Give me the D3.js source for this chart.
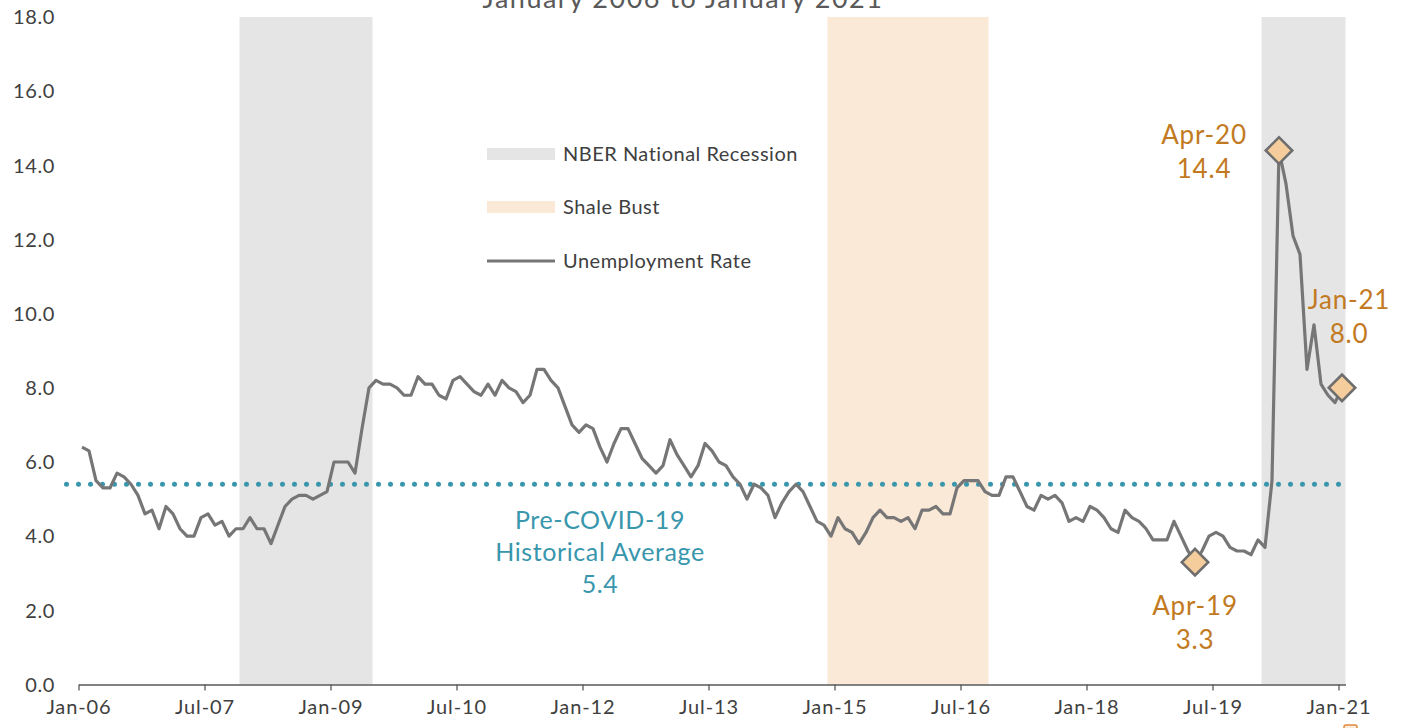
<!DOCTYPE html>
<html>
<head>
<meta charset="utf-8">
<script src="https://cdn.jsdelivr.net/npm/d3@7/dist/d3.min.js"></script>
<style>
  body { margin: 0; background: #fff; }
  svg { display: block; font-family: Lato, "Noto Sans", sans-serif; }
</style>
</head>
<body>
<div id="chart"></div>
<script>
// monthly unemployment rate, Jan-06 .. Jan-21
var rate = [
  6.4, 6.3, 5.5, 5.3, 5.3, 5.7, 5.6, 5.4, 5.1, 4.6, 4.7, 4.2,
  4.8, 4.6, 4.2, 4.0, 4.0, 4.5, 4.6, 4.3, 4.4, 4.0, 4.2, 4.2,
  4.5, 4.2, 4.2, 3.8, 4.3, 4.8, 5.0, 5.1, 5.1, 5.0, 5.1, 5.2,
  6.0, 6.0, 6.0, 5.7, 6.9, 8.0, 8.2, 8.1, 8.1, 8.0, 7.8, 7.8,
  8.3, 8.1, 8.1, 7.8, 7.7, 8.2, 8.3, 8.1, 7.9, 7.8, 8.1, 7.8,
  8.2, 8.0, 7.9, 7.6, 7.8, 8.5, 8.5, 8.2, 8.0, 7.5, 7.0, 6.8,
  7.0, 6.9, 6.4, 6.0, 6.5, 6.9, 6.9, 6.5, 6.1, 5.9, 5.7, 5.9,
  6.6, 6.2, 5.9, 5.6, 5.9, 6.5, 6.3, 6.0, 5.9, 5.6, 5.4, 5.0,
  5.4, 5.3, 5.1, 4.5, 4.9, 5.2, 5.4, 5.2, 4.8, 4.4, 4.3, 4.0,
  4.5, 4.2, 4.1, 3.8, 4.1, 4.5, 4.7, 4.5, 4.5, 4.4, 4.5, 4.2,
  4.7, 4.7, 4.8, 4.6, 4.6, 5.3, 5.5, 5.5, 5.5, 5.2, 5.1, 5.1,
  5.6, 5.6, 5.2, 4.8, 4.7, 5.1, 5.0, 5.1, 4.9, 4.4, 4.5, 4.4,
  4.8, 4.7, 4.5, 4.2, 4.1, 4.7, 4.5, 4.4, 4.2, 3.9, 3.9, 3.9,
  4.4, 4.0, 3.6, 3.3, 3.6, 4.0, 4.1, 4.0, 3.7, 3.6, 3.6, 3.5,
  3.9, 3.7, 5.5, 14.4, 13.5, 12.1, 11.6, 8.5, 9.7, 8.1, 7.8, 7.6,
  8.0
];

var tickMonths = [0, 18, 36, 54, 72, 90, 108, 126, 144, 162, 180];
var tickLabels = ['Jan-06', 'Jul-07', 'Jan-09', 'Jul-10', 'Jan-12', 'Jul-13',
                  'Jan-15', 'Jul-16', 'Jan-18', 'Jul-19', 'Jan-21'];
var yTicks = [0, 2, 4, 6, 8, 10, 12, 14, 16, 18];

// [first month, month after last]
var recessions = [[23, 42], [169, 181]];
var shaleBust = [[107, 130]];

var historicalAvg = 5.4;

var callouts = [
  { month: 159, label: 'Apr-19', value: 3.3 },
  { month: 171, label: 'Apr-20', value: 14.4 },
  { month: 180, label: 'Jan-21', value: 8.0 }
];

var width = 1410,
    height = 728,
    plotLeft = 78.5,
    plotRight = 1345.5,
    plotTop = 17,
    plotBottom = 684.5;

var gray = '#767676',
    teal = '#3896ad',
    orange = '#c27a22';

var x = d3.scaleLinear().domain([0, rate.length]).range([plotLeft, plotRight]);
var y = d3.scaleLinear().domain([0, 18]).range([plotBottom, plotTop]);

function mx(i) {
  return x(i + 0.5);
}

var svg = d3.select('#chart')
            .append('svg')
            .attr('width', width)
            .attr('height', height);

svg.selectAll('rect.recession')
   .data(recessions)
   .enter()
   .append('rect')
   .attr('class', 'recession')
   .attr('x', function(d) { return x(d[0]); })
   .attr('width', function(d) { return x(d[1]) - x(d[0]); })
   .attr('y', plotTop)
   .attr('height', plotBottom - plotTop)
   .attr('fill', '#e5e5e5');

svg.selectAll('rect.shale')
   .data(shaleBust)
   .enter()
   .append('rect')
   .attr('class', 'shale')
   .attr('x', function(d) { return x(d[0]); })
   .attr('width', function(d) { return x(d[1]) - x(d[0]); })
   .attr('y', plotTop)
   .attr('height', plotBottom - plotTop)
   .attr('fill', '#fae9d6');

// subtitle, cut by the top edge
svg.append('text')
   .attr('x', 683)
   .attr('y', 8)
   .attr('text-anchor', 'middle')
   .attr('font-size', 27)
   .attr('letter-spacing', 1.5)
   .attr('fill', '#595959')
   .text('January 2006 to January 2021');

// y labels, no axis line
svg.selectAll('text.ylab')
   .data(yTicks)
   .enter()
   .append('text')
   .attr('class', 'ylab')
   .attr('x', 55)
   .attr('y', function(d) { return y(d); })
   .attr('dy', '0.36em')
   .attr('text-anchor', 'end')
   .attr('font-size', 20)
   .attr('letter-spacing', 0.6)
   .attr('fill', '#404040')
   .text(function(d) { return d.toFixed(1); });

var xAxis = d3.axisBottom(x)
              .tickValues(tickMonths)
              .tickSize(6)
              .tickSizeOuter(0)
              .tickFormat(function(d, i) { return tickLabels[i]; });

var gx = svg.append('g')
            .attr('transform', 'translate(0,' + plotBottom + ')')
            .call(xAxis);

gx.select('.domain').attr('stroke', '#595959').attr('stroke-width', 1.3);
gx.selectAll('.tick line').attr('stroke', '#595959').attr('stroke-width', 1.3);
gx.selectAll('.tick text')
  .attr('y', 15)
  .attr('font-family', 'Lato, "Noto Sans", sans-serif')
  .attr('font-size', 20)
  .attr('letter-spacing', 0.9)
  .attr('fill', '#404040');

// historical average, dotted
svg.append('line')
   .attr('x1', x(0) - 12)
   .attr('x2', plotRight)
   .attr('y1', y(historicalAvg))
   .attr('y2', y(historicalAvg))
   .attr('stroke', teal)
   .attr('stroke-width', 5)
   .attr('stroke-linecap', 'round')
   .attr('stroke-dasharray', '0 12');

var line = d3.line()
             .x(function(d, i) { return mx(i); })
             .y(function(d) { return y(d); });

svg.append('path')
   .datum(rate)
   .attr('d', line)
   .attr('fill', 'none')
   .attr('stroke', gray)
   .attr('stroke-width', 3.2)
   .attr('stroke-linejoin', 'round');

svg.selectAll('path.marker')
   .data(callouts)
   .enter()
   .append('path')
   .attr('class', 'marker')
   .attr('d', d3.symbol().type(d3.symbolSquare).size(350))
   .attr('transform', function(d) {
     return 'translate(' + mx(d.month) + ',' + y(d.value) + ') rotate(45)';
   })
   .attr('fill', '#f5cd9c')
   .attr('stroke', '#6e6e6e')
   .attr('stroke-width', 2.6);

// callout text positions
var calloutText = [
  { cx: 1195, cy: 615 },
  { cx: 1204, cy: 144 },
  { cx: 1349, cy: 309 }
];

callouts.forEach(function(c, i) {
  var t = svg.append('text')
             .attr('text-anchor', 'middle')
             .attr('font-size', 26)
             .attr('letter-spacing', 0.8)
             .attr('fill', orange);
  t.append('tspan').attr('x', calloutText[i].cx).attr('y', calloutText[i].cy).text(c.label);
  t.append('tspan').attr('x', calloutText[i].cx).attr('y', calloutText[i].cy + 34).text(c.value.toFixed(1));
});

var avgText = svg.append('text')
                 .attr('text-anchor', 'middle')
                 .attr('font-size', 25)
                 .attr('letter-spacing', 0.6)
                 .attr('fill', teal);
['Pre-COVID-19', 'Historical Average', historicalAvg.toFixed(1)].forEach(function(s, i) {
  avgText.append('tspan').attr('x', 600).attr('y', 529 + i * 32).text(s);
});

// legend
var legend = svg.append('g').attr('transform', 'translate(487,0)');
var legendItems = ['NBER National Recession', 'Shale Bust', 'Unemployment Rate'];
var legendY = [154, 207, 261];

legend.append('rect').attr('x', 0).attr('y', 148).attr('width', 68).attr('height', 12).attr('fill', '#e5e5e5');
legend.append('rect').attr('x', 0).attr('y', 201).attr('width', 68).attr('height', 12).attr('fill', '#fae9d6');
legend.append('line').attr('x1', 0).attr('x2', 68).attr('y1', 261).attr('y2', 261)
      .attr('stroke', gray).attr('stroke-width', 3);

legend.selectAll('text')
      .data(legendItems)
      .enter()
      .append('text')
      .attr('x', 76)
      .attr('y', function(d, i) { return legendY[i]; })
      .attr('dy', '0.36em')
      .attr('font-size', 20)
      .attr('letter-spacing', 0.5)
      .attr('fill', '#404040')
      .text(function(d) { return d; });

// clipped shape peeking in at the bottom edge
svg.append('rect')
   .attr('x', 1344).attr('y', 725).attr('width', 13).attr('height', 10).attr('rx', 2)
   .attr('fill', '#fcebd8').attr('stroke', '#e08a3c').attr('stroke-width', 1.5);
</script>
</body>
</html>
